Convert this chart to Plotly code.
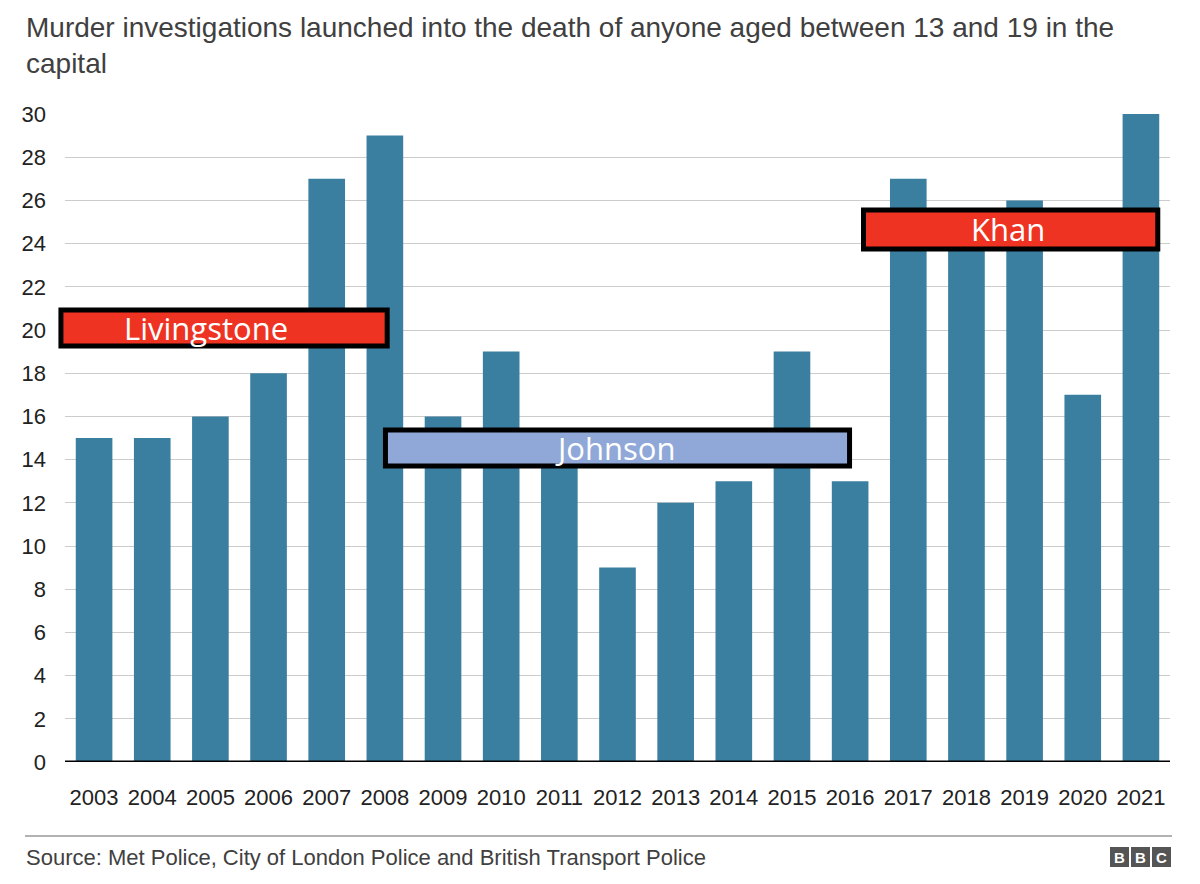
import plotly.graph_objects as go

years = [str(y) for y in range(2003, 2022)]
cases = [15, 15, 16, 18, 27, 29, 16, 19, 14, 9, 12, 13, 19, 13, 27, 25, 26, 17, 30]
y_ticks = list(range(0, 31, 2))

mayors = ["Livingstone", "Johnson", "Khan"]
mayor_x0 = [-0.57, 5.01, 13.23]
mayor_x1 = [5.04, 12.99, 18.29]
mayor_y0 = [19.26, 13.70, 23.75]
mayor_y1 = [20.93, 15.37, 25.56]
mayor_fill = ["#EE3323", "#8FA8D8", "#EE3323"]
mayor_text_x = [1.92, 8.95, 15.72]

fig = go.Figure(go.Bar(x=years, y=cases, marker_color="#3A7FA0", marker_line_width=0,
                       width=0.63, hoverinfo="skip"))

W, H = 1200, 884
L, R, T, B = 65, 30, 114, 122
N = len(years)

def cat_to_paper(i):
    return (i + 0.5) / N

for name, x0, x1, y0, y1, fc, tx in zip(mayors, mayor_x0, mayor_x1, mayor_y0, mayor_y1, mayor_fill, mayor_text_x):
    fig.add_shape(type="rect", xref="paper", yref="y", x0=cat_to_paper(x0), x1=cat_to_paper(x1),
                  y0=y0, y1=y1, fillcolor=fc, line=dict(color="#000000", width=5), layer="above")
    fig.add_annotation(x=cat_to_paper(tx), y=(y0 + y1) / 2, xref="paper", yref="y", text=name, showarrow=False,
                       font=dict(family="Open Sans, Lato, sans-serif", size=31, color="white"),
                       xanchor="center", yanchor="middle")

fig.update_layout(
    width=W, height=H,
    margin=dict(l=L, r=R, t=T, b=B),
    paper_bgcolor="white", plot_bgcolor="white",
    showlegend=False,
    font=dict(family="Liberation Sans, Arial, sans-serif", color="#222222"),
    xaxis=dict(type="category", showgrid=False, tickfont=dict(size=22, color="#222222"),
               ticks="", ticklen=0, range=[-0.5, 18.5], ticklabelstandoff=20),
    yaxis=dict(range=[0, 30], tickvals=y_ticks, showgrid=True, gridcolor="#cccccc", gridwidth=1,
               tickfont=dict(size=22, color="#222222"), zeroline=False, ticks="",
               ticklabelstandoff=18),
)

# baseline
fig.add_shape(type="line", xref="paper", yref="y", x0=0, x1=1, y0=0, y1=0,
              line=dict(color="#000000", width=3), layer="above")

def px_x(p):
    return (p - L) / (W - L - R)

def px_y(p):
    return 1 - (p - T) / (H - T - B)

# Title
fig.add_annotation(xref="paper", yref="paper", x=px_x(24), y=px_y(10), xanchor="left", yanchor="top",
                   align="left", showarrow=False,
                   text="Murder investigations launched into the death of anyone aged between 13 and 19 in the<br>capital",
                   font=dict(size=28, color="#404040", family="Liberation Sans, Arial, sans-serif"))

# footer rule
fig.add_shape(type="line", xref="paper", yref="paper", x0=px_x(25), x1=px_x(1172),
              y0=px_y(836), y1=px_y(836), line=dict(color="#999999", width=1.5))
fig.add_annotation(xref="paper", yref="paper", x=px_x(24), y=px_y(857), xanchor="left", yanchor="middle",
                   showarrow=False, text="Source: Met Police, City of London Police and British Transport Police",
                   font=dict(size=22, color="#404040", family="Liberation Sans, Arial, sans-serif"))

# BBC logo
for i, letter in enumerate("BBC"):
    x0 = 1110 + i * 21
    fig.add_shape(type="rect", xref="paper", yref="paper", x0=px_x(x0), x1=px_x(x0 + 19),
                  y0=px_y(867), y1=px_y(847), fillcolor="#555555", line_width=0)
    fig.add_annotation(xref="paper", yref="paper", x=px_x(x0 + 9.5), y=px_y(857), showarrow=False,
                       text="<b>" + letter + "</b>", xanchor="center", yanchor="middle",
                       font=dict(size=15, color="white", family="Liberation Sans, Arial, sans-serif"))

fig.write_html("out.html")
